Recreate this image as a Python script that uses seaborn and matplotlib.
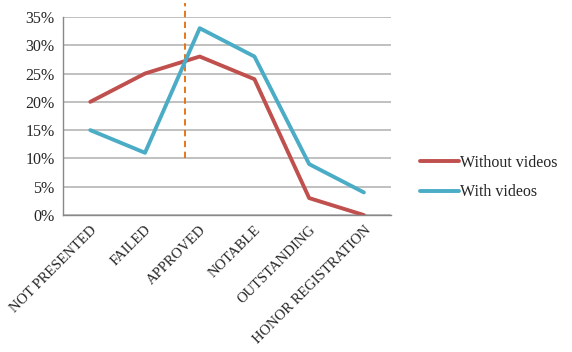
import numpy as np
import pandas as pd
import seaborn as sns
import matplotlib.pyplot as plt
from matplotlib.ticker import PercentFormatter

categories = ["NOT PRESENTED", "FAILED", "APPROVED", "NOTABLE", "OUTSTANDING", "HONOR REGISTRATION"]
without_videos = [20, 25, 28, 24, 3, 0]
with_videos = [15, 11, 33, 28, 9, 4]
series_names = ["Without videos", "With videos"]

# dashed marker line between FAILED and APPROVED
marker_x = 1.73
marker_y = (10, 37.5)

df = pd.DataFrame({
    "category": categories * 2,
    "pos": list(range(len(categories))) * 2,
    "value": without_videos + with_videos,
    "series": [series_names[0]] * len(categories) + [series_names[1]] * len(categories),
})

sns.set_style("white")
plt.rcParams['font.family'] = ['Liberation Serif', 'DejaVu Serif']

fig = plt.figure(figsize=(5.72, 3.52), dpi=100)
ax = fig.add_axes([0.110, 0.389, 0.574, 0.563])

sns.lineplot(data=df, x="pos", y="value", hue="series", ax=ax,
             palette=["#C0504D", "#4BACC6"], linewidth=2.8, legend=True)

ax.plot([marker_x, marker_x], list(marker_y), color="#E46C0A", linestyle=(0, (3.5, 2.5)),
        linewidth=1.3, clip_on=False, zorder=1)

ax.set_xlim(-0.5, len(categories) - 0.5)
ax.set_ylim(0, 35)
ax.set_yticks(np.arange(0, 36, 5))
ax.yaxis.set_major_formatter(PercentFormatter(decimals=0))
ax.set_xticks(range(len(categories)))
ax.set_xticklabels(categories, rotation=45, ha="right", rotation_mode="anchor")
ax.set_xticks(np.arange(-0.5, len(categories), 1), minor=True)
ax.tick_params(axis="x", which="major", length=0, labelsize=10.5, pad=6)
ax.tick_params(axis="x", which="minor", length=5, color="#888888", direction="out")
ax.tick_params(axis="y", length=4, color="#888888", direction="out", labelsize=11.5, pad=2)
ax.grid(axis="y", color="#BBBBBB", linewidth=1.3)
ax.set_axisbelow(True)
for side in ["top", "right"]:
    ax.spines[side].set_visible(False)
for side in ["left", "bottom"]:
    ax.spines[side].set_color("#888888")
    ax.spines[side].set_linewidth(1.0)
ax.set_xlabel("")
ax.set_ylabel("")

ax.legend(title=None, frameon=False, loc="center left", bbox_to_anchor=(1.045, 0.19),
          fontsize=11.5, handlelength=2.4, handletextpad=0.1, labelspacing=0.85)

plt.savefig("out.png", dpi=100)
